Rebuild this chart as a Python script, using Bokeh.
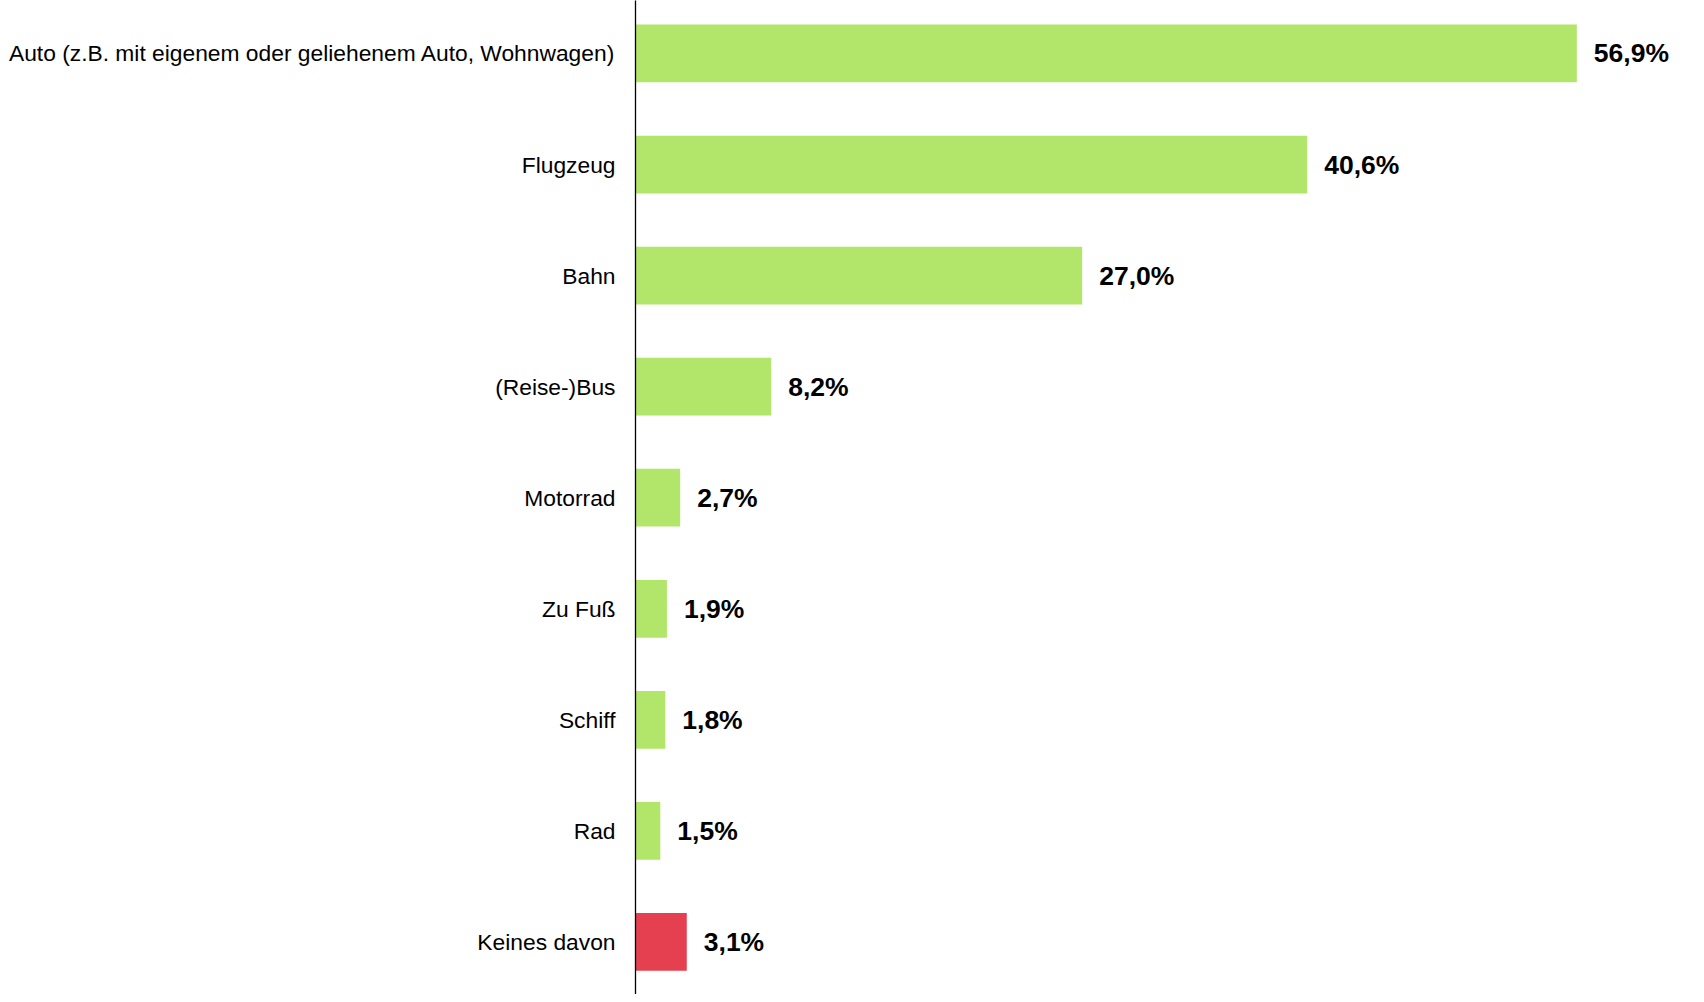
from bokeh.plotting import figure
from bokeh.models import ColumnDataSource, Range1d, FixedTicker
from bokeh.core.properties import value
from bokeh.embed import file_html
from bokeh.resources import INLINE

categories = [
    "Auto (z.B. mit eigenem oder geliehenem Auto, Wohnwagen)",
    "Flugzeug",
    "Bahn",
    "(Reise-)Bus",
    "Motorrad",
    "Zu Fuß",
    "Schiff",
    "Rad",
    "Keines davon",
]
shares = [56.9, 40.6, 27.0, 8.2, 2.7, 1.9, 1.8, 1.5, 3.1]
bar_colors = ["#b2e66a"] * 8 + ["#e5404f"]

n = len(categories)
ypos = [n - 1 - i for i in range(n)]
labels = [f"{v:.1f}".replace(".", ",") + "%" for v in shares]

src = ColumnDataSource(dict(y=ypos, v=shares, c=bar_colors, lab=labels, cat=categories))

p = figure(
    width=1688, height=994,
    x_range=Range1d(0, 63.65),
    y_range=Range1d(-0.473, n - 1 + 0.477),
    output_backend="svg", toolbar_location=None,
    min_border_left=635, min_border_right=0, min_border_top=0, min_border_bottom=0,
)
p.hbar(y="y", right="v", left=0, height=0.52, fill_color="c", line_color=None, source=src)
p.text(x="v", y="y", text="lab", x_offset=17, text_baseline="middle", text_align="left",
       text_font=value("Liberation Sans"), text_font_style="bold", text_font_size="26.5px",
       text_color="black", source=src)

p.xaxis.visible = False
p.xgrid.visible = False
p.ygrid.visible = False
p.outline_line_color = None

ya = p.yaxis[0]
ya.ticker = FixedTicker(ticks=ypos)
ya.major_label_overrides = {y: c for y, c in zip(ypos, categories)}
ya.major_tick_in = 0
ya.major_tick_out = 0
ya.minor_tick_in = 0
ya.minor_tick_out = 0
ya.major_label_standoff = 20
ya.major_label_text_font = "Liberation Sans"
ya.major_label_text_font_size = "22.8px"
ya.major_label_text_color = "black"
ya.axis_line_color = "black"
ya.axis_line_width = 1.3

open("out.html", "w").write(file_html(p, INLINE))
